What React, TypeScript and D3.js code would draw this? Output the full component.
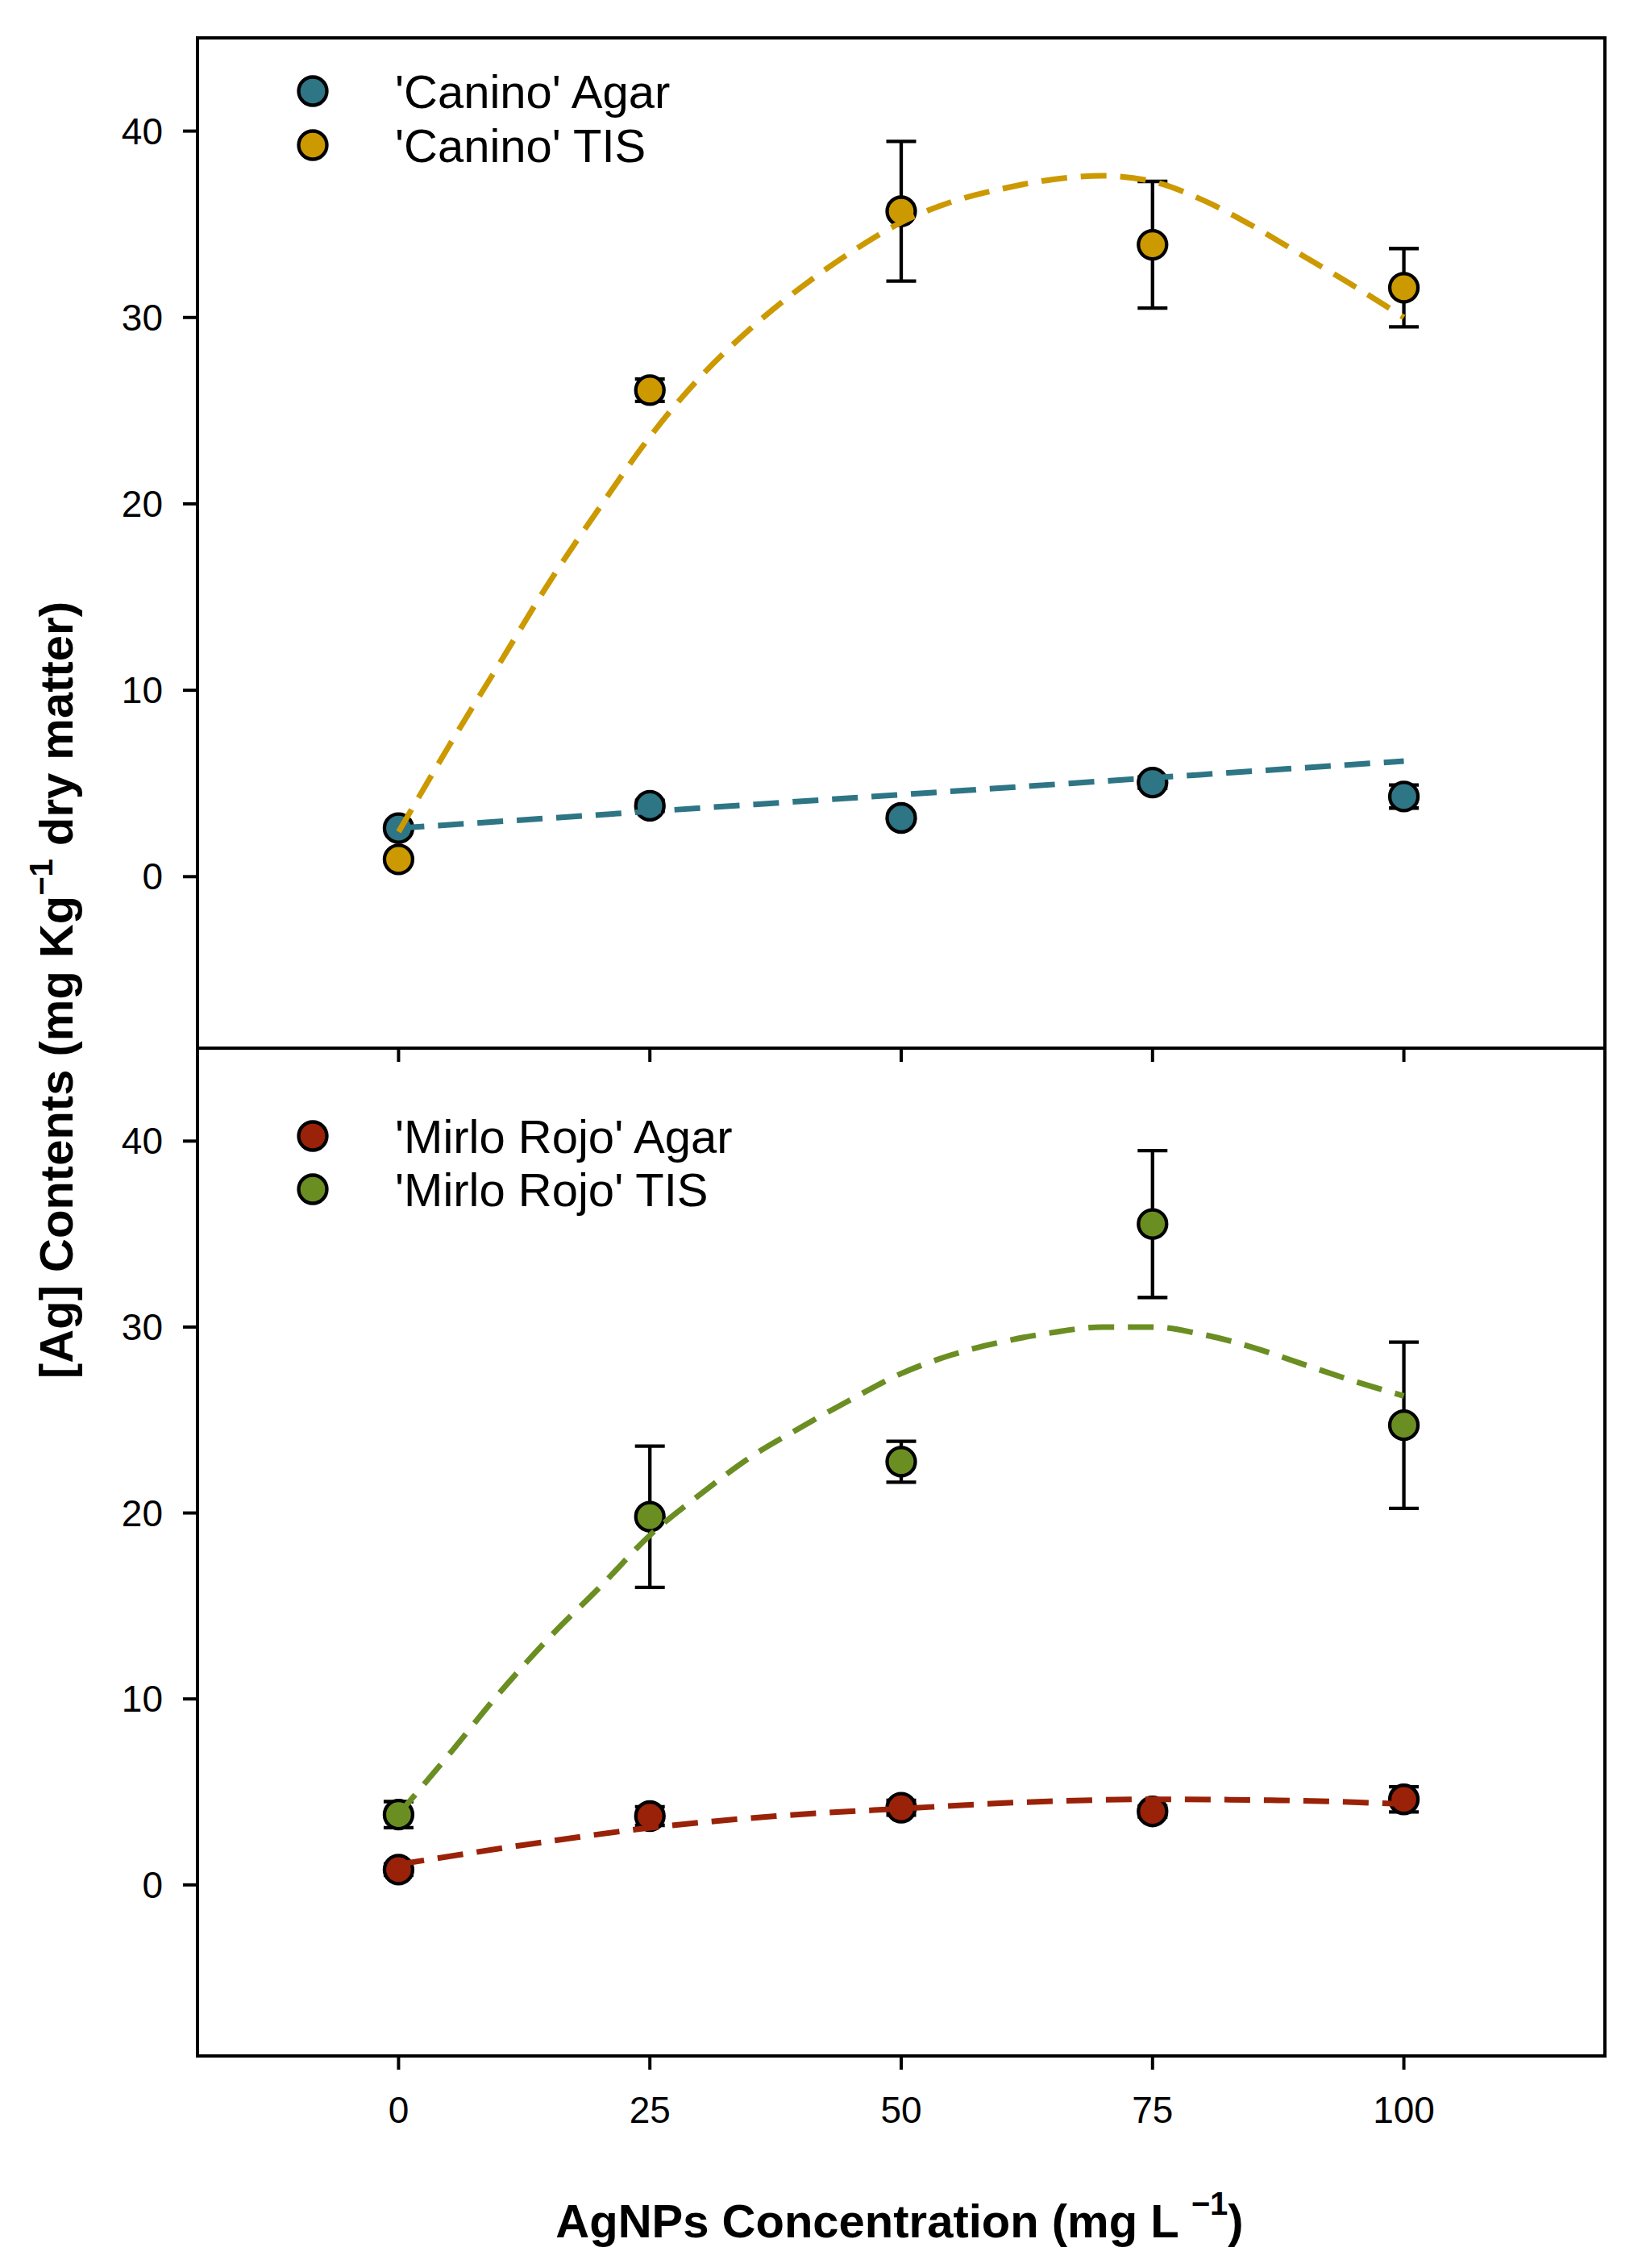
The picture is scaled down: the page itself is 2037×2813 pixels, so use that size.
import { useEffect, useRef } from "react";
import * as d3 from "d3";

const W = 2037, H = 2813;

// concentrations (mg/L)
const conc = [0, 25, 50, 75, 100];
const xTicks = [0, 25, 50, 75, 100];
const yTicks = [0, 10, 20, 30, 40];

// 'Canino'
const caninoAgar = [2.6, 3.8, 3.15, 5.05, 4.3];
const caninoAgarErr = [0.2, 0.3, 0.2, 0.3, 0.62];
const caninoTIS = [0.93, 26.1, 35.7, 33.9, 31.6];
const caninoTISErr = [0.2, 0.6, 3.75, 3.4, 2.1];

// 'Mirlo Rojo'
const mirloAgar = [0.82, 3.7, 4.15, 3.95, 4.6];
const mirloAgarErr = [0.3, 0.5, 0.4, 0.3, 0.68];
const mirloTIS = [3.78, 19.8, 22.76, 35.54, 24.72];
const mirloTISErr = [0.7, 3.8, 1.1, 3.95, 4.47];

// fitted curves
const fitX5 = [0, 5, 10, 15, 20, 25, 30, 35, 40, 45, 50, 55, 60, 65, 70, 75, 80, 85, 90, 95, 100];
const caninoTISFit = [2.4, 7.0, 11.4, 15.8, 19.8, 23.6, 26.8, 29.4, 31.6, 33.5, 35.1, 36.2, 36.9, 37.4, 37.6, 37.3, 36.3, 34.9, 33.3, 31.7, 30.0];
const mirloTISFit = [3.8, 7.0, 10.3, 13.3, 16.0, 18.8, 21.0, 23.0, 24.6, 26.1, 27.5, 28.5, 29.2, 29.7, 30.0, 30.0, 29.6, 28.9, 28.0, 27.1, 26.3];
const caninoAgarFitX = [0, 25, 50, 75, 100];
const caninoAgarFit = [2.6, 3.5, 4.4, 5.3, 6.2];
const mirloAgarFitX = [0, 12.5, 25, 37.5, 50, 62.5, 75, 87.5, 100];
const mirloAgarFit = [1.1, 2.15, 3.07, 3.7, 4.1, 4.45, 4.6, 4.55, 4.35];

const TEAL = "#2E7585", GOLD = "#CC9900", RED = "#9A2208", GREEN = "#6B8E23";
const FONT = "Arial, 'Liberation Sans', Helvetica, sans-serif";

interface Series {
  name: string; color: string;
  vals: number[]; err: number[];
  fitX: number[]; fit: number[];
}

const topSeries: Series[] = [
  { name: "'Canino' Agar", color: TEAL, vals: caninoAgar, err: caninoAgarErr, fitX: caninoAgarFitX, fit: caninoAgarFit },
  { name: "'Canino' TIS", color: GOLD, vals: caninoTIS, err: caninoTISErr, fitX: fitX5, fit: caninoTISFit },
];
const botSeries: Series[] = [
  { name: "'Mirlo Rojo' Agar", color: RED, vals: mirloAgar, err: mirloAgarErr, fitX: mirloAgarFitX, fit: mirloAgarFit },
  { name: "'Mirlo Rojo' TIS", color: GREEN, vals: mirloTIS, err: mirloTISErr, fitX: fitX5, fit: mirloTISFit },
];

export default function App() {
  const ref = useRef<SVGSVGElement>(null);

  useEffect(() => {
    if (!ref.current) return;
    const svg = d3.select(ref.current);
    svg.selectAll("*").remove();

    const L = 245, R = 1991, T = 47, M = 1300, B = 2550;
    const x = d3.scaleLinear().domain([-20, 120]).range([L, R]);
    const R0 = 17.5;

    const drawPanel = (top: number, bot: number, series: Series[], legY: number[], xLabels: boolean) => {
      const y = d3.scaleLinear().domain([-9.2, 45]).range([bot, top]);
      const g = svg.append("g");

      // error bars
      series.forEach(s => {
        s.vals.forEach((v, i) => {
          const cx = x(conc[i]), y1 = y(v + s.err[i]), y2 = y(v - s.err[i]);
          g.append("line").attr("x1", cx).attr("x2", cx).attr("y1", y1).attr("y2", y2)
            .attr("stroke", "#000").attr("stroke-width", 4.3);
          [y1, y2].forEach(yy => g.append("line")
            .attr("x1", cx - 18.5).attr("x2", cx + 18.5).attr("y1", yy).attr("y2", yy)
            .attr("stroke", "#000").attr("stroke-width", 4.3));
        });
      });

      // markers
      series.forEach(s => {
        g.selectAll(null).data(s.vals).enter().append("circle")
          .attr("cx", (_, i) => x(conc[i])).attr("cy", d => y(d)).attr("r", R0)
          .attr("fill", s.color).attr("stroke", "#000").attr("stroke-width", 4.3);
      });

      // fitted dashed curves
      const line = d3.line<[number, number]>().x(d => x(d[0])).y(d => y(d[1])).curve(d3.curveMonotoneX);
      series.forEach(s => {
        const pts = s.fitX.map((fx, i) => [fx, s.fit[i]] as [number, number]);
        g.append("path").attr("d", line(pts)).attr("fill", "none")
          .attr("stroke", s.color).attr("stroke-width", 7).attr("stroke-dasharray", "32 17");
      });

      // legend
      series.forEach((s, i) => {
        g.append("circle").attr("cx", 388).attr("cy", legY[i]).attr("r", R0)
          .attr("fill", s.color).attr("stroke", "#000").attr("stroke-width", 4.3);
        g.append("text").attr("x", 490).attr("y", legY[i] + 21)
          .attr("font-family", FONT).attr("font-size", 58).attr("fill", "#000").text(s.name);
      });

      // frame
      g.append("rect").attr("x", L).attr("y", top).attr("width", R - L).attr("height", bot - top)
        .attr("fill", "none").attr("stroke", "#000").attr("stroke-width", 4);

      // y ticks
      yTicks.forEach(t => {
        g.append("line").attr("x1", L - 18).attr("x2", L).attr("y1", y(t)).attr("y2", y(t))
          .attr("stroke", "#000").attr("stroke-width", 4);
        g.append("text").attr("x", 202).attr("y", y(t) + 16).attr("text-anchor", "end")
          .attr("font-family", FONT).attr("font-size", 46).text(t);
      });

      // x ticks
      xTicks.forEach(t => {
        g.append("line").attr("x1", x(t)).attr("x2", x(t)).attr("y1", bot).attr("y2", bot + 17)
          .attr("stroke", "#000").attr("stroke-width", 4);
        if (xLabels) {
          g.append("text").attr("x", x(t)).attr("y", bot + 83).attr("text-anchor", "middle")
            .attr("font-family", FONT).attr("font-size", 46).text(t);
        }
      });
    };

    drawPanel(T, M, topSeries, [113, 180], false);
    drawPanel(M, B, botSeries, [1409, 1475], true);

    // axis titles
    const yl = svg.append("text").attr("transform", "translate(90,1228) rotate(-90)")
      .attr("text-anchor", "middle").attr("font-family", FONT).attr("font-weight", "bold")
      .attr("font-size", 58);
    yl.append("tspan").text("[Ag] Contents (mg Kg");
    yl.append("tspan").attr("dy", -25).attr("font-size", 40).text("\u22121");
    yl.append("tspan").attr("dy", 25).text(" dry matter)");

    const xl = svg.append("text").attr("x", 1116).attr("y", 2775)
      .attr("text-anchor", "middle").attr("font-family", FONT).attr("font-weight", "bold")
      .attr("font-size", 58);
    xl.append("tspan").text("AgNPs Concentration (mg L ");
    xl.append("tspan").attr("dy", -28).attr("font-size", 40).text("\u22121");
    xl.append("tspan").attr("dy", 28).text(")");
  }, []);

  return (
    <div style={{ position: "absolute", left: 0, top: 0 }}>
      <svg ref={ref} width={W} height={H} style={{ display: "block", background: "#fff" }} />
    </div>
  );
}
